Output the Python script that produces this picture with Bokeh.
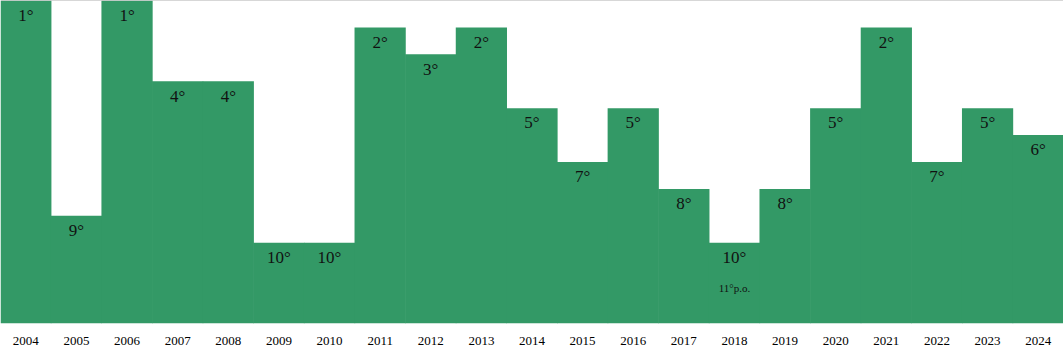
from bokeh.plotting import figure
from bokeh.models import FactorRange, Range1d, ColumnDataSource, Span
from bokeh.core.properties import value
from bokeh.embed import file_html
from bokeh.resources import INLINE

years = ["2004", "2005", "2006", "2007", "2008", "2009", "2010", "2011", "2012", "2013", "2014",
         "2015", "2016", "2017", "2018", "2019", "2020", "2021", "2022", "2023", "2024"]
ranks = [1, 9, 1, 4, 4, 10, 10, 2, 3, 2, 5, 7, 5, 8, 10, 8, 5, 2, 7, 5, 6]
rank_labels = [f"{r}°" for r in ranks]

note_year = ["2018"]
note_rank = [10]
note_text = ["11°p.o."]

BASE = 13
GREEN = "#339966"
FONT = "Liberation Serif"

src = ColumnDataSource(dict(x=years, rank=ranks, base=[BASE] * len(years),
                            lab=rank_labels, ly=[r + 0.55 for r in ranks]))
nsrc = ColumnDataSource(dict(x=note_year, y=[r + 1.68 for r in note_rank], t=note_text))

p = figure(x_range=FactorRange(*years, range_padding=0), y_range=Range1d(BASE, 1),
           width=1063, height=349, output_backend="svg", toolbar_location=None,
           min_border=0, min_border_bottom=26)
p.vbar(x="x", top="base", bottom="rank", width=1.012, source=src,
       fill_color=GREEN, line_color=None)
p.text(x="x", y="ly", text="lab", source=src, text_align="center", text_baseline="middle",
       text_font=value(FONT), text_font_size="17px", text_color="#111111")
p.text(x="x", y="y", text="t", source=nsrc, text_align="center", text_baseline="middle",
       text_font=value(FONT), text_font_size="11px", text_color="#111111")

p.add_layout(Span(location=1, dimension="width", line_color="#b0b0b0", line_width=1))

p.yaxis.visible = False
p.xgrid.visible = False
p.ygrid.visible = False
p.outline_line_color = None
p.xaxis.axis_line_color = None
p.xaxis.major_tick_line_color = None
p.xaxis.minor_tick_line_color = None
p.xaxis.major_label_standoff = 7
p.xaxis.major_label_text_font = FONT
p.xaxis.major_label_text_font_size = "13px"
p.xaxis.major_label_text_color = "#000000"
p.background_fill_color = "white"
p.border_fill_color = "white"

open("out.html", "w").write(file_html(p, INLINE))
